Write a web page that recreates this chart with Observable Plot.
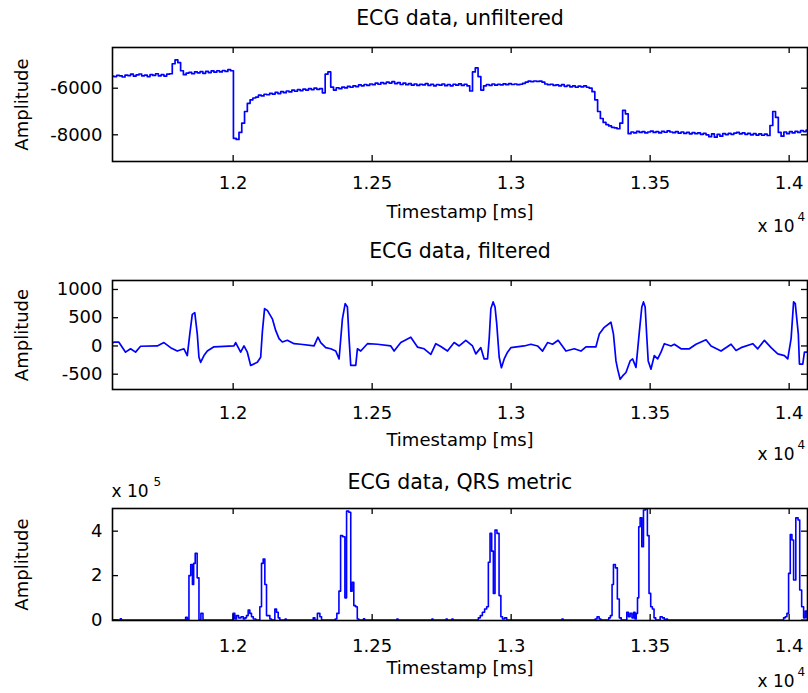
<!DOCTYPE html>
<html><head><meta charset="utf-8">
<script src="https://cdn.jsdelivr.net/npm/d3@7"></script>
<script src="https://cdn.jsdelivr.net/npm/@observablehq/plot@0.6"></script>
<style>
body{margin:0;background:#fff;}
#chart{width:808px;height:693px;overflow:hidden;position:relative;background:#fff}
#chart svg{display:block}
</style></head><body><div id="chart"></div>
<script>
// ---- shared x axis ----
const xDomain = [11566, 14066];
const xTicks = [12000, 12500, 13000, 13500, 14000];
const titles = ["ECG data, unfiltered", "ECG data, filtered", "ECG data, QRS metric"];
const xLabel = "Timestamp [ms]";
const yLabel = "Amplitude";

// ---- panel 1: unfiltered (sampled every 10 ms from 11566) ----
const rawT0 = 11566, rawDt = 10;
const rawV = [
-5480,-5500,-5450,-5470,-5520,-5440,-5460,-5400,-5480,-5430,
-5390,-5470,-5440,-5500,-5420,-5450,-5380,-5470,-5420,-5480,
-5400,-5380,-4950,-4780,-4900,-5250,-5420,-5350,-5320,-5380,
-5300,-5340,-5290,-5360,-5280,-5330,-5260,-5310,-5250,-5300,
-5240,-5280,-5200,-5250,-8150,-8200,-7900,-7500,-7000,-6650,
-6500,-6420,-6380,-6300,-6330,-6260,-6280,-6220,-6250,-6180,
-6230,-6150,-6190,-6120,-6160,-6080,-6130,-6060,-6100,-6040,
-6080,-6020,-6060,-6000,-6050,-6020,-6200,-5400,-5300,-5950,
-6080,-5980,-6020,-5950,-5990,-5920,-5960,-5900,-5930,-5860,
-5900,-5840,-5880,-5820,-5850,-5780,-5830,-5760,-5800,-5740,
-5780,-5720,-5800,-5760,-5840,-5780,-5850,-5800,-5870,-5820,
-5880,-5830,-5860,-5800,-5880,-5830,-5900,-5840,-5870,-5820,
-5890,-5840,-5900,-5830,-5870,-5810,-5880,-5830,-5900,-6120,
-5300,-5130,-5500,-6080,-5900,-5840,-5880,-5820,-5870,-5830,
-5860,-5810,-5850,-5800,-5840,-5820,-5850,-5830,-5790,-5740,
-5700,-5720,-5690,-5710,-5700,-5740,-5820,-5850,-5830,-5880,
-5860,-5900,-5850,-5920,-5880,-5940,-5900,-5960,-5910,-5940,
-5900,-5960,-6000,-6150,-6500,-7000,-7300,-7470,-7560,-7620,
-7680,-7700,-7740,-7500,-6950,-7100,-7950,-7880,-7920,-7850,
-7900,-7860,-7920,-7880,-7840,-7900,-7860,-7920,-7850,-7890,
-7830,-7880,-7910,-7860,-7930,-7880,-7940,-7900,-7960,-7910,
-7950,-7920,-7980,-7940,-8000,-8080,-7960,-8100,-7980,-8060,
-7950,-7990,-7940,-7980,-7930,-7900,-7960,-7920,-7980,-7940,
-8000,-7950,-8010,-7960,-8020,-7970,-8030,-7600,-7000,-7250,
-7900,-8060,-7880,-7950,-7860,-7920,-7850,-7900,-7820,-7860,
-7800];
const rawYTicks = [-8000, -6000];

// ---- panel 2: filtered ----
const filtT = [11566,11571,11589,11613,11631,11649,11667,11727,11751,11775,11799,11823,11835,11844,11853,11862,11871,11877,11883,11895,11907,11931,12003,12009,12027,12039,12051,12063,12087,12099,12105,12113,12123,12141,12153,12165,12177,12195,12219,12243,12291,12305,12315,12333,12351,12369,12381,12393,12403,12411,12417,12423,12441,12447,12459,12483,12519,12567,12579,12603,12639,12663,12687,12711,12729,12747,12771,12795,12813,12837,12861,12873,12891,12903,12915,12921,12927,12935,12942,12948,12957,12965,12975,12987,12999,13047,13071,13095,13113,13131,13149,13169,13197,13227,13251,13269,13305,13317,13335,13359,13368,13377,13383,13392,13401,13413,13428,13437,13449,13461,13470,13476,13482,13488,13493,13503,13515,13527,13539,13551,13575,13587,13611,13641,13665,13701,13719,13755,13791,13809,13827,13869,13887,13911,13935,13959,13983,13995,14007,14016,14022,14033,14037,14049,14055,14067];
const filtV = [50,67,67,-110,-50,-110,-5,0,60,-30,-90,-50,-170,210,560,590,210,-200,-290,-170,-90,-15,0,60,-110,0,-110,-345,-290,-200,245,660,630,480,275,130,70,100,40,30,0,155,60,-30,-50,-90,-230,480,750,690,130,-345,-345,-50,-90,40,30,0,-90,60,155,-20,-50,-150,40,-10,-90,60,0,100,0,-140,-30,-230,-230,130,660,780,690,400,-200,-385,-230,-110,-30,0,30,0,-90,60,30,100,-90,-50,-90,-15,-15,210,330,420,210,-265,-410,-590,-530,-470,-265,-230,-380,245,690,780,690,155,-265,-410,-170,-230,-110,40,0,30,-50,-50,30,110,0,-90,30,-80,-30,40,-50,100,-30,-140,-170,-230,130,780,750,210,-320,-320,-110,-110];
const filtYTicks = [-500, 0, 500, 1000];

// ---- panel 3: QRS metric (values in units of 1e5) ----
const qrsT = [11566,11592,11596,11600,11826,11832,11838,11844,11851,11856,11860,11867,11874,11880,11888,11895,
11996,12003,12009,12015,12024,12033,12040,12045,12051,12057,12063,12069,12076,12087,
12093,12099,12105,12111,12117,12123,12129,12135,12141,
12147,12153,12159,12165,12171,12185,12189,12193,
12285,12291,12297,12309,12315,12321,
12365,12369,12377,12384,12389,12399,12405,12411,12421,12425,12431,12437,12444,12449,12455,
12467,12471,12475,12587,12591,12595,12713,12717,12721,12764,12768,12772,12785,12789,12793,
12879,12885,12893,12900,12909,12915,12921,12927,12933,12939,12945,12953,12960,12966,12972,12981,12987,
13181,13185,13189,
13299,13305,13313,13320,13326,13349,13353,13361,13365,13371,13379,13385,13393,13399,
13413,13419,13425,13431,13438,13443,13448,13452,13457,13461,13467,13473,13479,13487,13493,13499,13505,13511,13517,13523,
13533,13539,13548,13554,13560,13565,
13977,13983,13989,13995,14001,14007,14013,14019,14029,14035,14041,14049,14055,14061,14067];
const qrsVe5 = [0,0,0.06,0,0,0.12,0,2.0,2.5,1.6,2.55,3.0,1.9,0,0.3,0,
0,0.3,0.05,0.2,0.1,0.15,0.05,0.1,0.2,0.45,0.3,0.15,0.05,0,
0,0.6,2.55,2.75,1.6,0.2,0.2,0.05,0,
0,0.5,0.35,0.1,0,0,0.05,0,
0,0.1,0,0.3,0.15,0,
0,0.05,0.3,1.3,3.8,3.75,1.0,4.9,4.85,1.3,1.7,0.65,0.6,0.05,0,
0,0.06,0,0,0.05,0,0,0.05,0,0,0.05,0,0,0.05,0,
0,0.1,0.2,0.35,0.5,0.6,2.6,3.9,3.1,1.2,4.05,3.9,1.1,0.15,0.05,0.1,0,
0,0.05,0,
0,0.05,0.15,0.05,0,0,0.1,0.2,1.6,2.5,2.35,0.95,0.1,0,
0,0.35,0.15,0.3,0.1,0.35,0.05,0.3,1.0,4.2,4.6,3.3,4.95,5.0,3.8,1.2,0.6,0.5,0.1,0,
0,0.15,0.1,0,0.05,0,
0,0.1,0.15,0.3,2.1,3.85,3.6,1.8,4.6,4.5,1.35,0.6,0.1,0.4,0.1];
const qrsYTicks = [0, 200000, 400000];

const rawData = rawV.map((v, i) => ({t: rawT0 + i * rawDt, v}));
const filtData = filtT.map((t, i) => ({t, v: filtV[i]}));
const qrsData = qrsT.map((t, i) => ({t, v: qrsVe5[i] * 1e5}));

const W = 808, ML = 112, MR = 1;
const FW = W - ML - MR;
const FONT = "DejaVu Sans";

function panel(o) {
  const fh = o.height - o.mt - o.mb;
  const marks = [
    Plot.line(o.data, {x: "t", y: "v", stroke: "#0000ff", strokeWidth: o.sw, curve: o.curve, clip: true}),
    Plot.tickX(xTicks, {x: d => d, insetTop: fh - 6, stroke: "#000", strokeWidth: 1.3}),
    Plot.tickX(xTicks, {x: d => d, insetBottom: fh - 6, stroke: "#000", strokeWidth: 1.3}),
    Plot.tickY(o.yTicks, {y: d => d, insetRight: FW - 6, stroke: "#000", strokeWidth: 1.3}),
    Plot.tickY(o.yTicks, {y: d => d, insetLeft: FW - 6, stroke: "#000", strokeWidth: 1.3}),
    Plot.frame({stroke: "#000", strokeWidth: 1.6}),
    Plot.axisX(xTicks, {tickSize: 0, tickPadding: o.xPad, tickFormat: d => String(d / 1e4), fontSize: 18, label: null}),
    Plot.axisY(o.yTicks, {tickSize: 0, tickPadding: 10, tickFormat: o.yFmt, fontSize: 18, label: null}),
    Plot.text([o.title], {frameAnchor: "top", dy: o.titleDy, textAnchor: "middle", lineAnchor: "middle", fontSize: 20.5, text: d => d}),
    Plot.text([xLabel], {frameAnchor: "bottom", dy: o.labelDy, textAnchor: "middle", lineAnchor: "middle", fontSize: 18, text: d => d}),
    Plot.text([yLabel], {frameAnchor: "left", dx: -90, rotate: -90, textAnchor: "middle", lineAnchor: "middle", fontSize: 18, text: d => d}),
    Plot.text(["x 10"], {frameAnchor: "bottom-right", dx: -50, dy: o.expDy, textAnchor: "start", lineAnchor: "middle", fontSize: 17, text: d => d}),
    Plot.text(["4"], {frameAnchor: "bottom-right", dx: -10, dy: o.expDy - 9, textAnchor: "start", lineAnchor: "middle", fontSize: 12, text: d => d})
  ];
  if (o.extra) marks.push(...o.extra);
  return Plot.plot({
    width: W, height: o.height,
    marginTop: o.mt, marginBottom: o.mb, marginLeft: ML, marginRight: MR,
    style: {fontFamily: FONT, fontSize: "18px", color: "#000", background: "#fff", overflow: "hidden"},
    x: {domain: xDomain, label: null},
    y: {domain: o.yDomain, label: null},
    marks
  });
}

const chart = document.getElementById("chart");
chart.append(panel({
  data: rawData, yDomain: [-9146, -4253], yTicks: rawYTicks, yFmt: d => String(d),
  height: 236, mt: 47, mb: 75, title: titles[0], titleDy: -29, xPad: 15, labelDy: 51, expDy: 65,
  curve: "step", sw: 1.7
}));
chart.append(panel({
  data: filtData, yDomain: [-771, 1159], yTicks: filtYTicks, yFmt: d => String(d),
  height: 230, mt: 44, mb: 77, title: titles[1], titleDy: -29, xPad: 17, labelDy: 51, expDy: 65,
  curve: "linear", sw: 1.7
}));
chart.append(panel({
  data: qrsData, yDomain: [-2000, 502000], yTicks: qrsYTicks, yFmt: d => String(d / 1e5),
  height: 227, mt: 42, mb: 73, title: titles[2], titleDy: -26, xPad: 19, labelDy: 48, expDy: 61,
  curve: "step", sw: 1.6,
  extra: [
    Plot.text(["x 10"], {frameAnchor: "top-left", dx: -1, dy: -17, textAnchor: "start", lineAnchor: "middle", fontSize: 17, text: d => d}),
    Plot.text(["5"], {frameAnchor: "top-left", dx: 41, dy: -26, textAnchor: "start", lineAnchor: "middle", fontSize: 12, text: d => d})
  ]
}));
</script></body></html>
